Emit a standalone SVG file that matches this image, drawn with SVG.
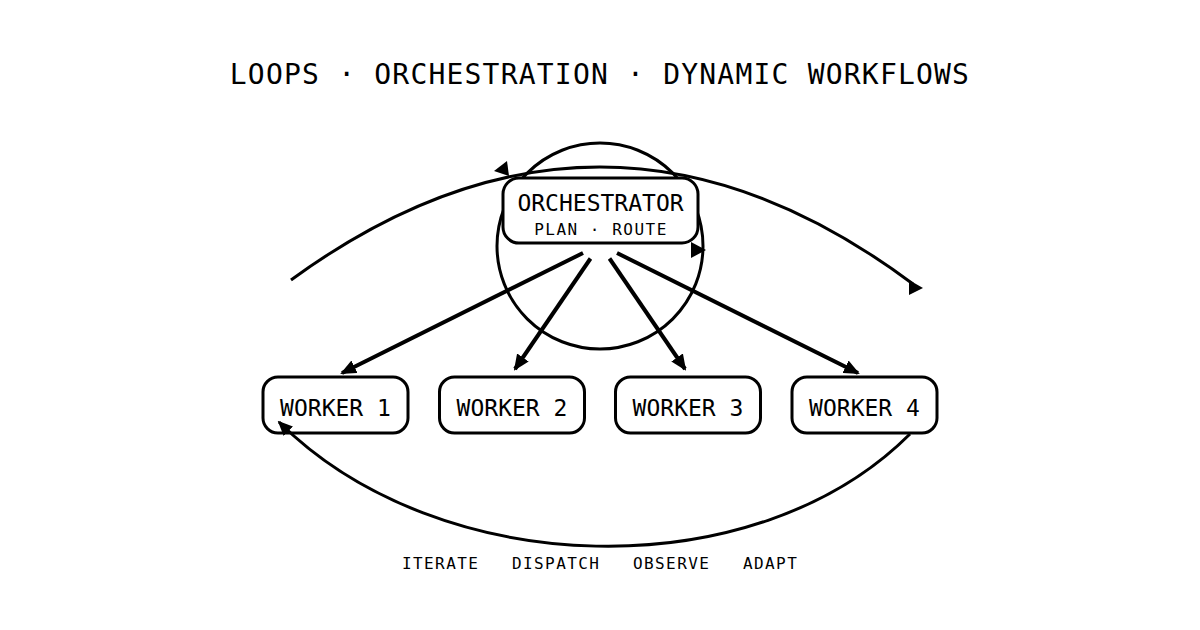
<svg xmlns="http://www.w3.org/2000/svg" width="1200" height="630" viewBox="0 0 1200 630">
<style>
  .bg { fill: #ffffff; }
  .box { fill: #ffffff; stroke: #000000; stroke-width: 3; }
  .line { fill: none; stroke: #000000; stroke-width: 3; }
  .arrow { fill: none; stroke: #000000; stroke-width: 4; }
  .head { fill: #000000; stroke: none; }
  text { font-family: "DejaVu Sans Mono", "Liberation Mono", monospace; fill: #000000; }
  .title { font-size: 28px; letter-spacing: 1.2px; text-anchor: middle; }
  .main { font-size: 23px; text-anchor: middle; }
  .sub { font-size: 16px; letter-spacing: 1.5px; text-anchor: middle; }
  .lbl { font-size: 16px; letter-spacing: 1.4px; }
</style>
<defs>
  <marker id="ah" viewBox="0 0 16 14" refX="14" refY="7" markerWidth="16" markerHeight="14" markerUnits="userSpaceOnUse" orient="auto">
    <path d="M0,0 L16,7 L0,14 Z" class="head"/>
  </marker>
  <marker id="ah2" viewBox="0 0 16 14" refX="14" refY="7" markerWidth="15" markerHeight="14" markerUnits="userSpaceOnUse" orient="auto">
    <path d="M0,0 L16,7 L0,14 Z" class="head"/>
  </marker>
</defs>
<rect class="bg" x="0" y="0" width="1200" height="630"/>
<text class="title" x="600" y="84">LOOPS · ORCHESTRATION · DYNAMIC WORKFLOWS</text>

<g id="loops">
  <circle class="line" cx="600" cy="246" r="103"/>
  <path class="line" d="M291,280 Q603,52 913,284"/>
  <polygon class="head" points="909,280 923,288 909,295"/>
  <polygon class="head" points="494,171 507,161 509,176"/>
  <polygon class="head" points="691,242 706,250 691,258"/>
</g>

<g id="orchestrator">
  <rect class="box" x="503" y="178" width="195" height="65" rx="16"/>
  <text class="main" x="600.5" y="211">ORCHESTRATOR</text>
  <text class="sub" x="601" y="235">PLAN · ROUTE</text>
</g>
<g id="worker1">
  <rect class="box" x="263" y="377" width="145" height="56" rx="15"/>
  <text class="main" x="335.5" y="416">WORKER 1</text>
</g>
<g id="worker2">
  <rect class="box" x="439.5" y="377" width="145" height="56" rx="15"/>
  <text class="main" x="512" y="416">WORKER 2</text>
</g>
<g id="worker3">
  <rect class="box" x="615.5" y="377" width="145" height="56" rx="15"/>
  <text class="main" x="688" y="416">WORKER 3</text>
</g>
<g id="worker4">
  <rect class="box" x="792" y="377" width="145" height="56" rx="15"/>
  <text class="main" x="864.5" y="416">WORKER 4</text>
</g>

<g id="connectors">
  <path class="line" d="M910,434 C754,590 439,581 279,422" marker-end="url(#ah2)"/>
  <line class="arrow" x1="583" y1="253" x2="342" y2="373" marker-end="url(#ah)"/>
  <line class="arrow" x1="590.5" y1="258.5" x2="515" y2="369" marker-end="url(#ah)"/>
  <line class="arrow" x1="609.5" y1="258.5" x2="685" y2="369" marker-end="url(#ah)"/>
  <line class="arrow" x1="617" y1="253" x2="858" y2="373" marker-end="url(#ah)"/>
</g>

<g id="labels">
  <text class="lbl" x="402" y="569">ITERATE</text>
  <text class="lbl" x="512" y="569">DISPATCH</text>
  <text class="lbl" x="633" y="569">OBSERVE</text>
  <text class="lbl" x="743" y="569">ADAPT</text>
</g>
</svg>
